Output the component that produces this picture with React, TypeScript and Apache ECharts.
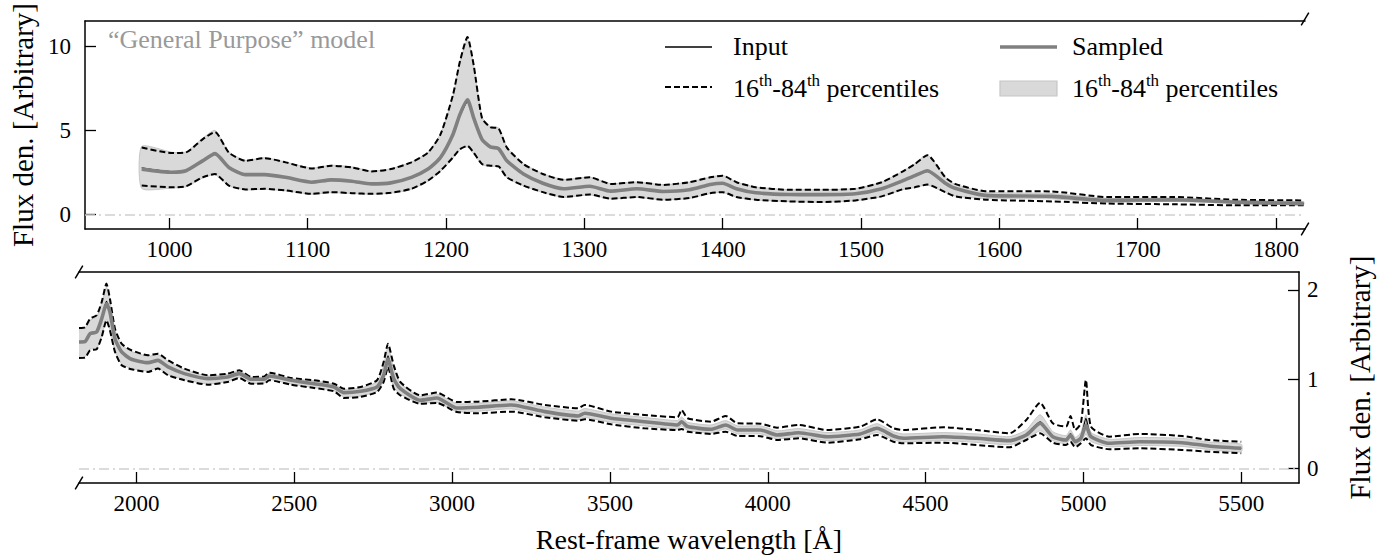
import React, { useEffect, useRef } from "react";
import * as echarts from "echarts";

// ---------- data ----------
const TOP_X_TICKS = [1000, 1100, 1200, 1300, 1400, 1500, 1600, 1700, 1800];
const TOP_Y_TICKS = [0, 5, 10];
const BOT_X_TICKS = [2000, 2500, 3000, 3500, 4000, 4500, 5000, 5500];
const BOT_Y_TICKS = [0, 1, 2];

const TOP_WAVE = [980, 1002, 1012, 1024, 1033, 1043, 1055, 1069, 1084, 1103, 1117, 1132, 1146, 1160, 1175, 1187, 1196, 1205, 1210, 1215.5, 1220, 1226, 1232, 1238, 1244, 1256, 1270, 1285, 1304, 1319, 1338, 1357, 1376, 1391, 1400, 1410, 1424, 1448, 1472, 1496, 1515, 1530, 1539, 1548, 1561, 1568, 1590, 1638, 1678, 1726, 1770, 1820];
const TOP_MED_INPUT = [2.78, 2.55, 2.62, 3.17, 3.58, 2.82, 2.38, 2.36, 2.22, 1.93, 2.05, 1.99, 1.83, 1.88, 2.2, 2.68, 3.36, 4.7, 5.85, 6.7, 5.7, 4.45, 4.0, 3.9, 3.2, 2.42, 1.87, 1.54, 1.67, 1.4, 1.52, 1.38, 1.46, 1.77, 1.85, 1.54, 1.3, 1.19, 1.18, 1.22, 1.52, 1.98, 2.29, 2.57, 1.85, 1.56, 1.14, 1.08, 0.85, 0.88, 0.74, 0.66];
const TOP_UP_INPUT = [3.98, 3.65, 3.69, 4.47, 4.9, 3.68, 3.19, 3.35, 3.1, 2.74, 2.9, 2.8, 2.56, 2.7, 3.1, 3.68, 4.76, 7.1, 9.08, 10.55, 8.88, 5.74, 5.19, 5.12, 3.98, 3.0, 2.41, 2.06, 2.21, 1.82, 1.92, 1.76, 1.92, 2.21, 2.31, 1.92, 1.62, 1.47, 1.47, 1.53, 1.92, 2.55, 3.0, 3.53, 2.21, 1.82, 1.39, 1.37, 1.04, 1.04, 0.88, 0.84];
const TOP_LO_INPUT = [1.72, 1.62, 1.68, 2.21, 2.41, 1.72, 1.49, 1.53, 1.43, 1.23, 1.33, 1.27, 1.23, 1.29, 1.53, 2.02, 2.6, 3.39, 3.88, 4.08, 3.68, 3.0, 2.9, 2.86, 2.21, 1.72, 1.33, 1.04, 1.19, 0.94, 1.04, 0.88, 0.98, 1.27, 1.33, 1.04, 0.88, 0.78, 0.74, 0.84, 1.08, 1.5, 1.62, 1.78, 1.33, 1.08, 0.88, 0.78, 0.65, 0.61, 0.55, 0.55];
const TOP_MED_SAMPLED = [2.7, 2.51, 2.6, 3.19, 3.62, 2.8, 2.37, 2.37, 2.21, 1.92, 2.06, 1.98, 1.82, 1.88, 2.21, 2.7, 3.39, 4.76, 5.94, 6.82, 5.74, 4.47, 4.02, 3.92, 3.19, 2.41, 1.86, 1.53, 1.68, 1.39, 1.53, 1.37, 1.47, 1.78, 1.86, 1.53, 1.29, 1.19, 1.18, 1.23, 1.53, 2.0, 2.31, 2.6, 1.86, 1.56, 1.14, 1.08, 0.84, 0.88, 0.74, 0.65];
const TOP_UP_SAMPLED = [4.05, 3.7, 3.72, 4.52, 5.0, 3.72, 3.22, 3.38, 3.12, 2.76, 2.93, 2.83, 2.58, 2.72, 3.12, 3.7, 4.8, 7.0, 9.0, 10.4, 8.8, 5.8, 5.22, 5.15, 4.0, 3.02, 2.43, 2.08, 2.22, 1.84, 1.93, 1.77, 1.93, 2.22, 2.33, 1.93, 1.63, 1.48, 1.48, 1.54, 1.93, 2.56, 3.02, 3.56, 2.22, 1.8, 1.33, 1.25, 0.96, 0.98, 0.83, 0.76];
const TOP_LO_SAMPLED = [1.55, 1.58, 1.65, 2.17, 2.37, 1.7, 1.47, 1.5, 1.41, 1.21, 1.3, 1.25, 1.21, 1.27, 1.5, 1.98, 2.56, 3.35, 3.85, 4.02, 3.62, 2.97, 2.87, 2.83, 2.18, 1.7, 1.31, 1.02, 1.17, 0.93, 1.02, 0.87, 0.96, 1.25, 1.31, 1.02, 0.87, 0.77, 0.73, 0.83, 1.06, 1.48, 1.6, 1.75, 1.31, 1.1, 0.95, 0.93, 0.73, 0.78, 0.66, 0.58];

const BOT_WAVE = [1818, 1837, 1853, 1874, 1890, 1905, 1916, 1932, 1953, 1984, 2037, 2068, 2100, 2152, 2226, 2289, 2326, 2363, 2405, 2421, 2489, 2563, 2626, 2657, 2710, 2762, 2783, 2797, 2815, 2836, 2899, 2952, 3015, 3083, 3188, 3294, 3399, 3420, 3504, 3609, 3714, 3727, 3746, 3820, 3867, 3904, 3977, 4030, 4098, 4188, 4293, 4346, 4398, 4430, 4556, 4661, 4766, 4819, 4863, 4903, 4945, 4959, 4974, 4992, 5008, 5024, 5082, 5177, 5313, 5397, 5500];
const BOT_MED_INPUT = [1.42, 1.425, 1.51, 1.53, 1.68, 1.87, 1.76, 1.455, 1.305, 1.222, 1.184, 1.21, 1.136, 1.061, 1.005, 1.024, 1.065, 0.998, 0.998, 1.04, 0.987, 0.948, 0.911, 0.848, 0.863, 0.911, 1.05, 1.26, 1.005, 0.892, 0.762, 0.788, 0.676, 0.684, 0.71, 0.635, 0.586, 0.62, 0.561, 0.522, 0.485, 0.53, 0.467, 0.437, 0.49, 0.429, 0.429, 0.373, 0.4, 0.354, 0.385, 0.455, 0.362, 0.336, 0.354, 0.336, 0.31, 0.38, 0.52, 0.354, 0.317, 0.39, 0.298, 0.34, 0.56, 0.354, 0.28, 0.298, 0.287, 0.25, 0.224];
const BOT_UP_INPUT = [1.573, 1.58, 1.677, 1.715, 1.864, 2.07, 1.9, 1.565, 1.397, 1.323, 1.267, 1.285, 1.21, 1.117, 1.043, 1.061, 1.099, 1.024, 1.03, 1.072, 1.012, 0.987, 0.948, 0.892, 0.911, 0.987, 1.19, 1.397, 1.155, 0.967, 0.818, 0.848, 0.743, 0.747, 0.773, 0.71, 0.673, 0.71, 0.635, 0.598, 0.572, 0.654, 0.561, 0.522, 0.586, 0.504, 0.5, 0.455, 0.485, 0.429, 0.467, 0.549, 0.448, 0.429, 0.46, 0.429, 0.392, 0.541, 0.735, 0.504, 0.467, 0.586, 0.429, 0.504, 0.99, 0.467, 0.354, 0.385, 0.362, 0.317, 0.298];
const BOT_LO_INPUT = [1.237, 1.24, 1.323, 1.334, 1.472, 1.659, 1.547, 1.304, 1.155, 1.11, 1.08, 1.117, 1.043, 0.987, 0.937, 0.967, 1.012, 0.948, 0.95, 0.987, 0.937, 0.9, 0.863, 0.788, 0.8, 0.855, 0.967, 1.136, 0.892, 0.818, 0.724, 0.732, 0.631, 0.617, 0.635, 0.572, 0.534, 0.549, 0.493, 0.448, 0.429, 0.44, 0.41, 0.385, 0.41, 0.362, 0.36, 0.317, 0.336, 0.287, 0.325, 0.373, 0.298, 0.28, 0.287, 0.261, 0.235, 0.317, 0.392, 0.287, 0.261, 0.298, 0.235, 0.28, 0.336, 0.261, 0.213, 0.224, 0.205, 0.186, 0.168];
const BOT_MED_SAMPLED = [1.416, 1.42, 1.509, 1.528, 1.677, 1.845, 1.752, 1.453, 1.304, 1.222, 1.184, 1.21, 1.136, 1.061, 1.005, 1.024, 1.061, 0.998, 0.998, 1.035, 0.987, 0.948, 0.911, 0.848, 0.863, 0.911, 1.043, 1.222, 1.005, 0.892, 0.762, 0.788, 0.676, 0.684, 0.71, 0.635, 0.586, 0.617, 0.561, 0.522, 0.485, 0.522, 0.467, 0.437, 0.485, 0.429, 0.429, 0.373, 0.399, 0.354, 0.385, 0.448, 0.362, 0.336, 0.354, 0.336, 0.31, 0.373, 0.504, 0.354, 0.317, 0.373, 0.298, 0.336, 0.485, 0.354, 0.28, 0.298, 0.287, 0.25, 0.224];
const BOT_UP_SAMPLED = [1.56, 1.57, 1.66, 1.7, 1.85, 2.03, 1.88, 1.55, 1.385, 1.31, 1.255, 1.275, 1.2, 1.105, 1.035, 1.055, 1.09, 1.02, 1.025, 1.065, 1.005, 0.98, 0.94, 0.885, 0.9, 0.97, 1.15, 1.36, 1.12, 0.955, 0.805, 0.83, 0.725, 0.73, 0.755, 0.685, 0.64, 0.67, 0.61, 0.57, 0.535, 0.575, 0.515, 0.485, 0.535, 0.475, 0.475, 0.42, 0.445, 0.4, 0.43, 0.5, 0.41, 0.385, 0.4, 0.385, 0.355, 0.43, 0.6, 0.41, 0.365, 0.43, 0.345, 0.4, 0.6, 0.4, 0.325, 0.345, 0.335, 0.295, 0.27];
const BOT_LO_SAMPLED = [1.25, 1.25, 1.335, 1.345, 1.485, 1.67, 1.56, 1.315, 1.17, 1.12, 1.09, 1.125, 1.05, 0.995, 0.945, 0.975, 1.02, 0.955, 0.955, 0.995, 0.945, 0.905, 0.87, 0.8, 0.81, 0.865, 0.98, 1.15, 0.905, 0.83, 0.73, 0.74, 0.635, 0.64, 0.665, 0.59, 0.545, 0.57, 0.515, 0.475, 0.44, 0.475, 0.425, 0.395, 0.44, 0.385, 0.385, 0.33, 0.355, 0.31, 0.34, 0.4, 0.32, 0.295, 0.31, 0.29, 0.265, 0.32, 0.42, 0.31, 0.275, 0.32, 0.26, 0.29, 0.38, 0.3, 0.24, 0.255, 0.245, 0.21, 0.185];

// ---------- styling ----------
const FONT = "Liberation Serif";
const GT = { left: 79, top: 19, width: 1226, height: 210 };
const GB = { left: 79, top: 272, width: 1225, height: 211 };
const MED_GRAY = "#808080";
const BAND_FILL = "#d9d9d9";
const BAND_EDGE = "#c6c6c6";
const SMOOTH = 0.2;
const DASH = [6, 3];

const pairs = (xs: number[], ys: number[]) => xs.map((x, i) => [x, ys[i]]);

const zeroLine = {
  silent: true,
  symbol: ["none", "none"],
  label: { show: false },
  lineStyle: { color: "#d0d0d0", width: 1.5, type: [10, 4, 2, 4] },
  data: [{ yAxis: 0 }],
};

function bandSeries(idx: number, wave: number[], hi: number[], lo: number[]) {
  return {
    type: "custom",
    name: "band-" + idx,
    xAxisIndex: idx * 2,
    yAxisIndex: idx,
    silent: true,
    clip: true,
    z: 1,
    encode: { x: 0, y: 1 },
    data: [[wave[0], hi[0]]],
    renderItem: (_params: any, api: any) => {
      const pts: number[][] = [];
      for (let i = 0; i < wave.length; i++) pts.push(api.coord([wave[i], hi[i]]));
      for (let i = wave.length - 1; i >= 0; i--) pts.push(api.coord([wave[i], lo[i]]));
      return {
        type: "polygon",
        shape: { points: pts, smooth: SMOOTH },
        style: { fill: BAND_FILL, stroke: BAND_EDGE, lineWidth: 1 },
      };
    },
  };
}

function panelSeries(
  idx: number,
  wave: number[],
  medIn: number[],
  upIn: number[],
  loIn: number[],
  medS: number[],
  upS: number[],
  loS: number[]
) {
  const common = { xAxisIndex: idx * 2, yAxisIndex: idx, type: "line", symbol: "none", smooth: SMOOTH, silent: true };
  return [
    bandSeries(idx, wave, upS, loS),
    {
      ...common,
      name: "in-up-" + idx,
      data: pairs(wave, upIn),
      lineStyle: { color: "#000", width: 2, type: DASH },
      z: 3,
      markLine: zeroLine,
    },
    {
      ...common,
      name: "in-lo-" + idx,
      data: pairs(wave, loIn),
      lineStyle: { color: "#000", width: 2, type: DASH },
      z: 3,
    },
    {
      ...common,
      name: "in-med-" + idx,
      data: pairs(wave, medIn),
      lineStyle: { color: "#000", width: 1.2 },
      z: 4,
    },
    {
      ...common,
      name: "s-med-" + idx,
      data: pairs(wave, medS),
      lineStyle: { color: MED_GRAY, width: 3.6 },
      z: 5,
    },
  ];
}

const axisLineStyle = { color: "#000", width: 1.5 };
const tickLabel = { fontFamily: FONT, fontSize: 23, color: "#000", formatter: (v: number) => String(v) };

function xAxisPair(gridIndex: number, min: number, max: number, ticks: number[], extra: any = {}) {
  return [
    {
      gridIndex,
      type: "value",
      min,
      max,
      position: "bottom",
      axisLine: { show: true, onZero: false, lineStyle: axisLineStyle },
      axisTick: { show: true, inside: true, length: 11, lineStyle: { color: "#000", width: 1.3 }, customValues: ticks },
      axisLabel: { ...tickLabel, margin: 9, customValues: ticks },
      splitLine: { show: false },
      ...extra,
    },
    {
      gridIndex,
      type: "value",
      min,
      max,
      position: "top",
      axisLine: { show: true, onZero: false, lineStyle: axisLineStyle },
      axisTick: { show: false },
      axisLabel: { show: false },
      splitLine: { show: false },
    },
  ];
}

const supText = "{n|16}{s|th}{n|-84}{s|th}{n| percentiles}";
const legendRich = {
  n: { fontSize: 26, fontFamily: FONT, fill: "#000", verticalAlign: "bottom", lineHeight: 29 },
  s: { fontSize: 17, fontFamily: FONT, fill: "#000", verticalAlign: "top", lineHeight: 17 },
};

const breakMark = (cx: number, cy: number) => ({
  type: "line",
  shape: { x1: cx - 3.8, y1: cy + 6.3, x2: cx + 3.8, y2: cy - 6.3 },
  style: { stroke: "#000", lineWidth: 1.5 },
  silent: true,
});

const option = {
  animation: false,
  backgroundColor: "#ffffff",
  textStyle: { fontFamily: FONT },
  grid: [
    { ...GT, containLabel: false },
    { ...GB, containLabel: false },
  ],
  xAxis: [
    ...xAxisPair(0, 939, 1821, TOP_X_TICKS),
    ...xAxisPair(1, 1818, 5683, BOT_X_TICKS, {
      name: "Rest-frame wavelength [Å]",
      nameLocation: "middle",
      nameGap: 42,
      nameTextStyle: { fontFamily: FONT, fontSize: 28, color: "#000" },
    }),
  ],
  yAxis: [
    {
      gridIndex: 0,
      type: "value",
      min: -0.86,
      max: 11.5,
      position: "left",
      axisLine: { show: true, onZero: false, lineStyle: axisLineStyle },
      axisTick: { show: true, inside: true, length: 11, lineStyle: { color: "#000", width: 1.3 }, customValues: TOP_Y_TICKS },
      axisLabel: { ...tickLabel, margin: 14, customValues: TOP_Y_TICKS },
      splitLine: { show: false },
      name: "Flux den. [Arbitrary]",
      nameLocation: "middle",
      nameRotate: 90,
      nameGap: 48,
      nameTextStyle: { fontFamily: FONT, fontSize: 29, color: "#000" },
    },
    {
      gridIndex: 1,
      type: "value",
      min: -0.165,
      max: 2.2,
      position: "right",
      axisLine: { show: true, onZero: false, lineStyle: axisLineStyle },
      axisTick: { show: true, inside: true, length: 11, lineStyle: { color: "#000", width: 1.3 }, customValues: BOT_Y_TICKS },
      axisLabel: { ...tickLabel, margin: 8, customValues: BOT_Y_TICKS },
      splitLine: { show: false },
      name: "Flux den. [Arbitrary]",
      nameLocation: "middle",
      nameRotate: 90,
      nameGap: 46,
      nameTextStyle: { fontFamily: FONT, fontSize: 29, color: "#000" },
    },
  ],
  series: [
    ...panelSeries(0, TOP_WAVE, TOP_MED_INPUT, TOP_UP_INPUT, TOP_LO_INPUT, TOP_MED_SAMPLED, TOP_UP_SAMPLED, TOP_LO_SAMPLED),
    ...panelSeries(1, BOT_WAVE, BOT_MED_INPUT, BOT_UP_INPUT, BOT_LO_INPUT, BOT_MED_SAMPLED, BOT_UP_SAMPLED, BOT_LO_SAMPLED),
  ],
  graphic: {
    elements: [
      {
        type: "text",
        x: 108,
        y: 26,
        silent: true,
        style: { text: "\u201CGeneral Purpose\u201D model", fontFamily: FONT, fontSize: 26, fill: "#999999" },
      },
      // legend column 1
      { type: "line", shape: { x1: 665, y1: 47, x2: 712, y2: 47 }, style: { stroke: "#000", lineWidth: 1.5 }, silent: true },
      {
        type: "text",
        x: 733,
        y: 33,
        silent: true,
        style: { text: "Input", fontFamily: FONT, fontSize: 26, fill: "#000" },
      },
      { type: "line", shape: { x1: 665, y1: 87, x2: 712, y2: 87 }, style: { stroke: "#000", lineWidth: 2, lineDash: DASH }, silent: true },
      {
        type: "text",
        x: 733,
        y: 72,
        silent: true,
        style: { text: supText, rich: legendRich, fontFamily: FONT, fontSize: 26, fill: "#000" },
      },
      // legend column 2
      { type: "line", shape: { x1: 1000, y1: 47, x2: 1057, y2: 47 }, style: { stroke: MED_GRAY, lineWidth: 3.6 }, silent: true },
      {
        type: "text",
        x: 1072,
        y: 33,
        silent: true,
        style: { text: "Sampled", fontFamily: FONT, fontSize: 26, fill: "#000" },
      },
      {
        type: "rect",
        shape: { x: 1000, y: 81, width: 57, height: 15 },
        style: { fill: BAND_FILL, stroke: BAND_EDGE, lineWidth: 1.2 },
        silent: true,
      },
      {
        type: "text",
        x: 1072,
        y: 72,
        silent: true,
        style: { text: supText, rich: legendRich, fontFamily: FONT, fontSize: 26, fill: "#000" },
      },
      // axis break marks
      breakMark(GT.left + GT.width, GT.top),
      breakMark(GT.left + GT.width, GT.top + GT.height),
      breakMark(GB.left, GB.top),
      breakMark(GB.left, GB.top + GB.height),
    ],
  },
};

export default function App() {
  const ref = useRef<HTMLDivElement>(null);
  useEffect(() => {
    if (!ref.current) return;
    const chart = echarts.init(ref.current, null, { renderer: "svg" });
    chart.setOption(option as any);
    return () => chart.dispose();
  }, []);
  return (
    <div
      ref={ref}
      style={{ position: "absolute", left: 0, top: 0, width: 1382, height: 558, background: "#fff" }}
    />
  );
}
